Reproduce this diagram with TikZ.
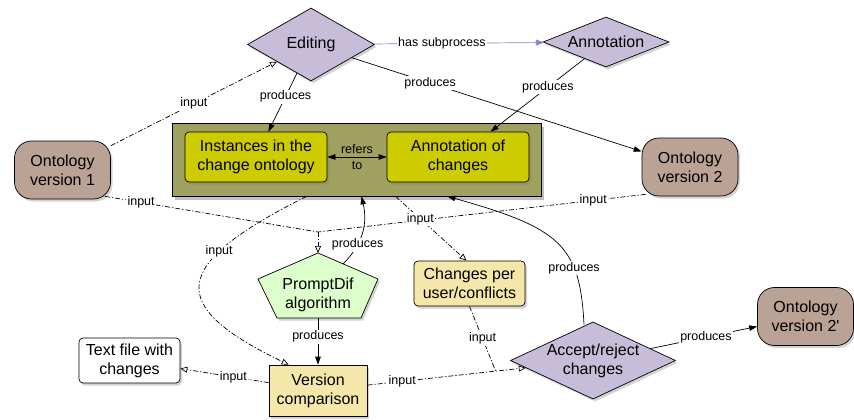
\documentclass[tikz,border=0pt]{standalone}
\usepackage{fontspec}
\setmainfont{Liberation Sans}
\newfontfamily\plainf{Liberation Sans}
\usetikzlibrary{shapes.geometric,arrows.meta,shadows,calc}
\definecolor{ontoc}{HTML}{BAA295}
\definecolor{procc}{HTML}{C7BDD9}
\definecolor{contc}{HTML}{A0A060}
\definecolor{innc}{HTML}{CCCC00}
\definecolor{pdc}{HTML}{DDFFCC}
\definecolor{yelc}{HTML}{F5E6AA}
\definecolor{purp}{HTML}{8F80D0}
\begin{document}
\begin{tikzpicture}[x=1pt,y=-1pt,line width=0.7pt,
  txt/.style={font=\fontsize{16}{19}\selectfont, align=center},
  lbl/.style={font=\fontsize{12.5}{14}\selectfont, fill=white, inner sep=1.2pt},
  shd/.style={drop shadow={opacity=0.35, shadow xshift=2pt, shadow yshift=-2.5pt}},
  onto/.style={txt, shd, draw, fill=ontoc, rounded corners=17pt, minimum width=96pt, minimum height=58pt, inner sep=0pt},
  proc/.style={txt, shd, draw, fill=procc, diamond, inner sep=0pt},
  inner/.style={txt, shd, draw, fill=innc, rounded corners=4pt, minimum width=142pt, minimum height=50pt, inner sep=0pt},
  ybox/.style={txt, shd, draw, fill=yelc, inner sep=0pt},
  dd/.style={dash pattern=on 5pt off 2pt on 1.2pt off 2pt},
  arr/.style={-{Triangle[length=8pt,width=5.5pt]}},
  oarr/.style={-{Triangle[open,length=7pt,width=6pt]}},
]
\useasboundingbox (0,0) rectangle (854,420);

% nodes
\node[onto] (ov1) at (62.5,170) {Ontology\\version 1};
\node[onto] (ov2) at (690,167) {Ontology\\version 2};
\node[onto] (ov2p) at (805.5,316.5) {Ontology\\{\plainf version 2'}};
\node[proc, aspect=1.74, minimum width=127pt, minimum height=73pt] (ed) at (311,44.5) {Editing};
\node[proc, aspect=2.52, minimum width=126pt, minimum height=50pt] (ann) at (606,42) {Annotation};
\node[draw, fill=contc, minimum width=369pt, minimum height=73pt,
      drop shadow={opacity=0.5, shadow xshift=3pt, shadow yshift=-3.5pt}] (cont) at (356.5,159.5) {};
\node[inner] (inst) at (256,157) {Instances in the\\change ontology};
\node[inner] (annch) at (458,157) {Annotation of\\changes};
\path[draw, shd, fill=pdc] (318,253) -- (378,279) -- (361,318) -- (277,318) -- (258,279) -- cycle;
\node[txt] (pd) at (318,295) {PromptDif\\algorithm};
\coordinate (pdtop) at (318,253);
\coordinate (pdbot) at (318,318);
\coordinate (pdur) at (343,264);
\node[ybox, rounded corners=4pt, minimum width=111pt, minimum height=45pt] (cpu) at (469.5,283.5) {Changes per\\user/conflicts};
\node[ybox, minimum width=98pt, minimum height=51pt] (vc) at (318,390.5) {Version\\comparison};
\node[txt, shd, draw, fill=white, rounded corners=4pt, minimum width=101pt, minimum height=45pt, inner sep=0pt] (tf) at (129.5,360.5) {Text file with\\changes};
\node[proc, aspect=2.14, minimum width=156pt, minimum height=73pt] (ar) at (593,360.5) {Accept/reject\\changes};
\coordinate (J) at (318,232);

% connectors
\draw[dd, oarr] (ov1) -- node[lbl, pos=0.5] {input} (ed);
\draw[arr] (ed) -- node[lbl, pos=0.4] {produces} (inst);
\draw[draw=purp, -{Triangle[length=8pt,width=6pt]}] (ed) -- node[lbl, pos=0.4, text=black] {has subprocess} (ann);
\draw[arr] (ed) -- node[lbl, pos=0.27] {produces} (ov2);
\draw[arr] (ann) -- node[lbl, pos=0.39] {produces} (annch);
\draw[{Triangle[length=8pt,width=5.5pt]}-{Triangle[length=8pt,width=5.5pt]}] (inst) -- node[font=\fontsize{12.5}{16}\selectfont, align=center] {refers\\to} (annch);

\draw[dd] ($(ov1.south east)+(-6,-3)$) -- node[lbl, pos=0.17] {input} (J);
\draw[dd] ($(ov2.south west)+(4,-2)$) -- node[lbl, pos=0.16] {input} (J);
\draw[dd, oarr] (J) -- (pdtop);

\draw[dd, oarr] ($(cont.south)+(-50,0)$) .. controls (170,265) and (165,305) .. node[lbl, pos=0.3] {input} ($(vc.north west)+(20,0)$);
\draw[arr] (pdur) .. controls (362,245) and (368,225) .. node[lbl, pos=0.33] {produces} ($(cont.south)+(5,0)$);
\draw[dd, oarr] ($(cont.south)+(39,0)$) -- node[lbl, pos=0.35] {input} ($(cpu.north)+(-3,0)$);
\draw[arr] (pdbot) -- node[lbl, pos=0.4] {produces} (vc);
\draw[dd, oarr] (vc) -- node[lbl, pos=0.4] {input} (tf);
\draw[dd, oarr] (vc) -- node[lbl, pos=0.22] {input} coordinate[pos=0.81] (K) (ar);
\draw[dd] (cpu.south) -- node[lbl, pos=0.5] {input} (K);
\draw[arr] ($(ar.north)+(-9,3)$) .. controls (580,245) and (560,228) .. node[lbl, pos=0.3] {produces} ($(cont.south east)+(-94,0)$);
\draw[arr] (ar) -- node[lbl, pos=0.52] {produces} (ov2p);
\end{tikzpicture}
\end{document}
